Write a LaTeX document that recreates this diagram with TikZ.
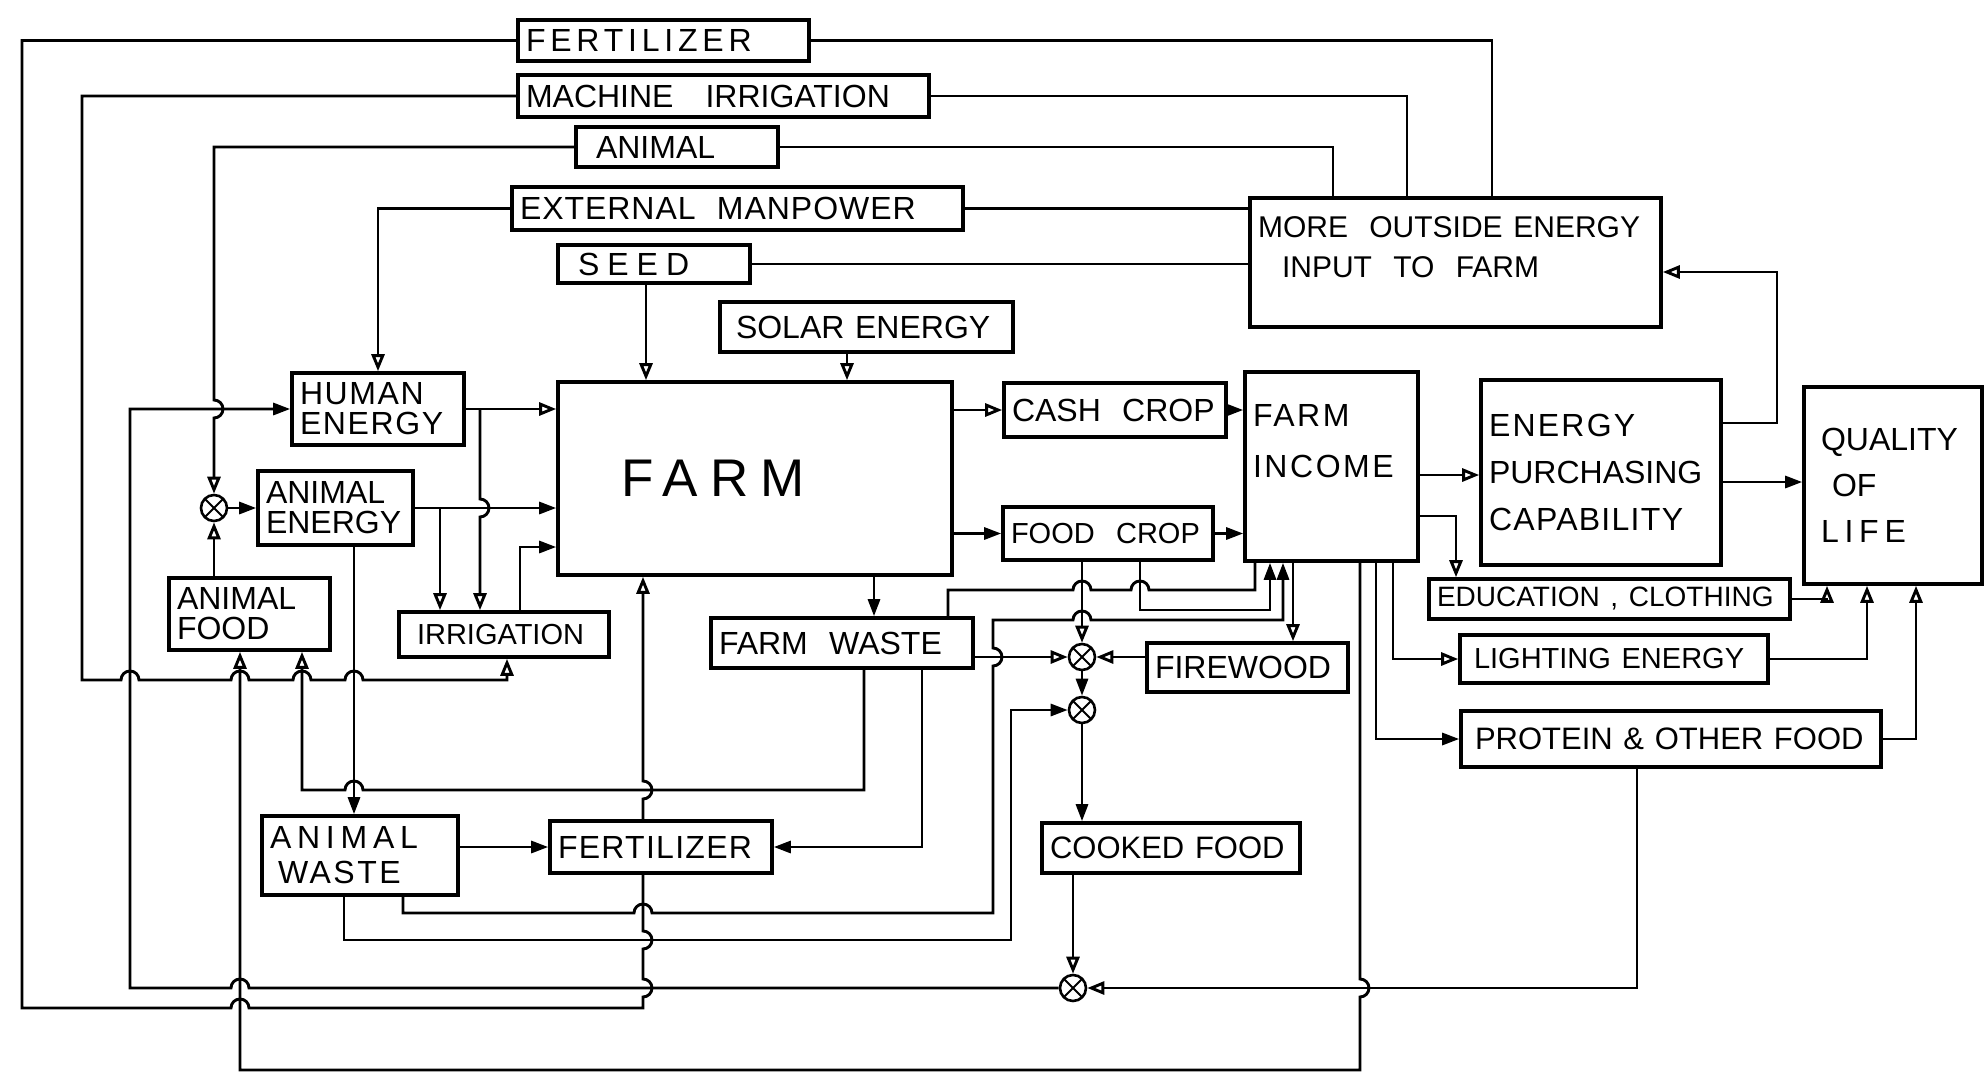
\documentclass[tikz,border=0pt]{standalone}
\usepackage{fontspec}
\usepackage{tikz}
\usetikzlibrary{arrows.meta}
\newfontfamily\hand{Liberation Sans}
\newcommand{\lsp}[1]{\addfontfeatures{LetterSpace=#1}}
% a line jumps over the one it crosses at (#1,#2)
\newcommand{\hopr}[2]{-- (#1-9,#2) arc[start angle=180,end angle=0,radius=9pt]}
\newcommand{\hopl}[2]{-- (#1+9,#2) arc[start angle=0,end angle=180,radius=9pt]}
\newcommand{\hopu}[2]{-- (#1,#2+9) arc[start angle=-90,end angle=90,radius=9pt]}
\newcommand{\hopd}[2]{-- (#1,#2-9) arc[start angle=90,end angle=-90,radius=9pt]}

\begin{document}
\begin{tikzpicture}[x=1pt,y=-1pt,line width=2.9pt,
    box/.style 2 args={draw,line width=3.6pt,text width=#1,minimum height=#2,
      inner xsep=8pt,inner ysep=0pt,align=left,font=\fontsize{32}{30}\hand},
    mix/.style={draw,circle,line width=2.6pt,minimum size=26pt,inner sep=0pt,
      path picture={\draw[line width=2pt]
        (path picture bounding box.north west) -- (path picture bounding box.south east)
        (path picture bounding box.north east) -- (path picture bounding box.south west);}},
    otip/.style={-{Triangle[open,length=17pt,width=13pt]}},
    ftip/.style={-{Triangle[length=17pt,width=12pt]}}]
    \path[fill=white] (0,0) rectangle (1986,1085);

    \node[box={275pt}{41pt}] (fert) at (663.5,40.5) {\lsp{15}FERTILIZER};
    \node[box={395pt}{42pt}] (mach) at (723.5,96) {MACHINE~~~IRRIGATION};
    \node[box={186pt}{40pt}] (anim) at (677,147) {\hspace*{12pt}ANIMAL};
    \node[box={435pt}{43pt}] (extm) at (737.5,208.5) {\lsp{3}EXTERNAL~~MANPOWER};
    \node[box={176pt}{38pt}] (seed) at (654,264) {\hspace*{12pt}\lsp{25}SEED};
    \node[box={277pt}{50pt}] (solar) at (866.5,327) {\hspace*{8pt}SOLAR~ENERGY};
    \node[box={395pt}{129pt}] (more) at (1455.5,262.5) {\fontsize{30}{30}\selectfont MORE~~OUTSIDE~ENERGY\\[10pt]\hspace*{24pt}INPUT~~TO~~FARM\\\mbox{}};
    \node[box={156pt}{72pt}] (human) at (378,409) {\lsp{5}HUMAN\\ENERGY};
    \node[box={139pt}{74pt}] (aenergy) at (335.5,508) {ANIMAL\\ENERGY};
    \node[box={145pt}{72pt}] (afood) at (249.5,614) {ANIMAL\\FOOD};
    \node[box={194pt}{45pt}] (irrig) at (504,634.5) {\fontsize{29}{30}\selectfont\hspace*{10pt}IRRIGATION};
    \node[box={378pt}{193pt}] (farm) at (755,478.5) {\fontsize{53}{53}\selectfont\hspace*{55pt}\lsp{23}FARM};
    \node[box={206pt}{54pt}] (cash) at (1115,410) {CASH~~CROP};
    \node[box={194pt}{53pt}] (foodc) at (1108,533.5) {\fontsize{29}{30}\selectfont FOOD~~CROP};
    \node[box={246pt}{50pt}] (fwaste) at (842,643) {FARM~~WASTE};
    \node[box={185pt}{49pt}] (firewood) at (1247.5,667.5) {FIREWOOD};
    \node[box={157pt}{189pt}] (income) at (1331.5,466.5) {\lsp{8}FARM\\[21pt]INCOME\\[22pt]\mbox{}};
    \node[box={224pt}{185pt}] (epc) at (1601,472.5) {{\lsp{7}ENERGY}\\[17pt]PURCHASING\\[17pt]{\lsp{4}CAPABILITY}};
    \node[box={162pt}{197pt}] (qol) at (1893,485.5) {\hspace*{9pt}QUALITY\\[16pt]\hspace*{20pt}OF\\[16pt]\hspace*{9pt}{\lsp{18}LIFE}};
    \node[box={345pt}{40pt}] (edu) at (1609.5,599) {\fontsize{28}{30}\selectfont EDUCATION~,~CLOTHING};
    \node[box={292pt}{48pt}] (light) at (1614,659) {\fontsize{29}{30}\selectfont\hspace*{6pt}LIGHTING~ENERGY};
    \node[box={404pt}{56pt}] (protein) at (1671,739) {\fontsize{31}{30}\selectfont\hspace*{6pt}PROTEIN~\&~OTHER~FOOD};
    \node[box={180pt}{79pt}] (awaste) at (360,855.5) {{\lsp{18}ANIMAL}\\[5pt]\hspace*{8pt}{\lsp{8}WASTE}};
    \node[box={206pt}{52pt}] (fert2) at (661,847) {\lsp{4}FERTILIZER};
    \node[box={242pt}{50pt}] (cooked) at (1171,848) {\fontsize{31}{30}\selectfont COOKED~FOOD};

    \node[mix] (m1) at (214,508) {};
    \node[mix] (m2) at (1082,657) {};
    \node[mix] (m3) at (1082,710) {};
    \node[mix] (m4) at (1073,988) {};

    \draw (fert.east) -| (1492,0 |- more.north);
    \draw (mach.east) -| (1407,0 |- more.north);
    \draw (anim.east) -| (1333,0 |- more.north);
    \draw (extm.east) -- (extm.east -| more.west);
    \draw (seed.east) -- (seed.east -| more.west);

    \draw (fert.west) -| (22,1008) \hopr{240}{1008} -- (643,1008) \hopu{643}{988} \hopu{643}{940} -- (643,0 |- fert2.south);
    \draw[otip] (643,0 |- fert2.north) \hopu{643}{790} -- (643,0 |- farm.south);
    \draw[otip] (mach.west) -| (82,680) \hopr{130}{680} \hopr{240}{680} \hopr{302}{680} \hopr{354}{680} -- (507,680) -- (507,0 |- irrig.south);
    \draw[otip] (anim.west) -- (anim.west -| m1.north) \hopd{214}{409} -- (m1.north);
    \draw[otip] (extm.west) -| (human.north);
    \draw[otip] (646,0 |- seed.south) -- (646,0 |- farm.north);
    \draw[otip] (847,0 |- solar.south) -- (847,0 |- farm.north);

    \draw[otip] (human.east) -- (human.east -| farm.west);
    \draw[otip] (480,0 |- human.east) \hopd{480}{508} -- (480,0 |- irrig.north);
    \draw[ftip] (aenergy.east) -- (aenergy.east -| farm.west);
    \draw[otip] (440,0 |- aenergy.east) -- (440,0 |- irrig.north);
    \draw[ftip] (520,0 |- irrig.north) |- (farm.west |- 0,547);
    \draw[ftip] (m1.east) -- (aenergy.west);
    \draw[otip] (m1.south |- afood.north) -- (m1.south);
    \draw[ftip] (354,0 |- aenergy.south) -- (354,0 |- awaste.north);
    \draw[ftip] (awaste.east |- fert2.west) -- (fert2.west);

    \draw[ftip] (m4.west) \hopl{240}{988} -- (130,988) |- (human.west);
    \draw[otip] (1360,0 |- income.south) \hopd{1360}{988} -- (1360,1070) -| (240,0 |- afood.south);
    \draw[otip] (864,0 |- fwaste.south) -- (864,790) \hopl{354}{790} -- (302,790) -- (302,0 |- afood.south);
    \draw[ftip] (922,0 |- fwaste.south) |- (fert2.east);
    \draw (948,0 |- fwaste.north) -- (948,590) \hopr{1082}{590} \hopr{1140}{590} -- (1255,590) -- (1255,0 |- income.south);
    \draw[ftip] (403,0 |- awaste.south) -- (403,913) \hopr{643}{913} -- (993,913) \hopu{993}{657} -- (993,620) \hopr{1082}{620} -- (1283,620) -- (1283,0 |- income.south);
    \draw[ftip] (344,0 |- awaste.south) -- (344,940) -- (1011,940) |- (m3.west);

    \draw[otip] (m2.north |- foodc.south) -- (m2.north);
    \draw[ftip] (1140,0 |- foodc.south) |- (1270,610) -- (1270,0 |- income.south);
    \draw[otip] (1293,0 |- income.south) -- (1293,0 |- firewood.north);
    \draw[otip] (fwaste.east |- m2.west) -- (m2.west);
    \draw[otip] (firewood.west |- m2.east) -- (m2.east);
    \draw[ftip] (m2.south) -- (m3.north);
    \draw[ftip] (m3.south) -- (m3.south |- cooked.north);
    \draw[otip] (m4.north |- cooked.south) -- (m4.north);
    \draw[otip] (1637,0 |- protein.south) |- (m4.east);

    \draw[otip] (farm.east |- cash.west) -- (cash.west);
    \draw[ftip] (farm.east |- foodc.west) -- (foodc.west);
    \draw[ftip] (874,0 |- farm.south) -- (874,0 |- fwaste.north);
    \draw[ftip] (cash.east) -- (cash.east -| income.west);
    \draw[ftip] (foodc.east) -- (foodc.east -| income.west);
    \draw[otip] (income.east |- 0,475) -- (epc.west |- 0,475);
    \draw[otip] (income.east |- 0,516) -| (1456,0 |- edu.north);
    \draw[otip] (1393,0 |- income.south) |- (light.west);
    \draw[ftip] (1376,0 |- income.south) |- (protein.west);
    \draw[ftip] (epc.east |- 0,482) -- (qol.west |- 0,482);
    \draw[otip] (epc.east |- 0,423) -| (1777,272) -- (more.east |- 0,272);
    \draw[otip] (edu.east) -| (1827,0 |- qol.south);
    \draw[otip] (light.east) -| (1867,0 |- qol.south);
    \draw[otip] (protein.east) -| (1916,0 |- qol.south);
\end{tikzpicture}
\end{document}
